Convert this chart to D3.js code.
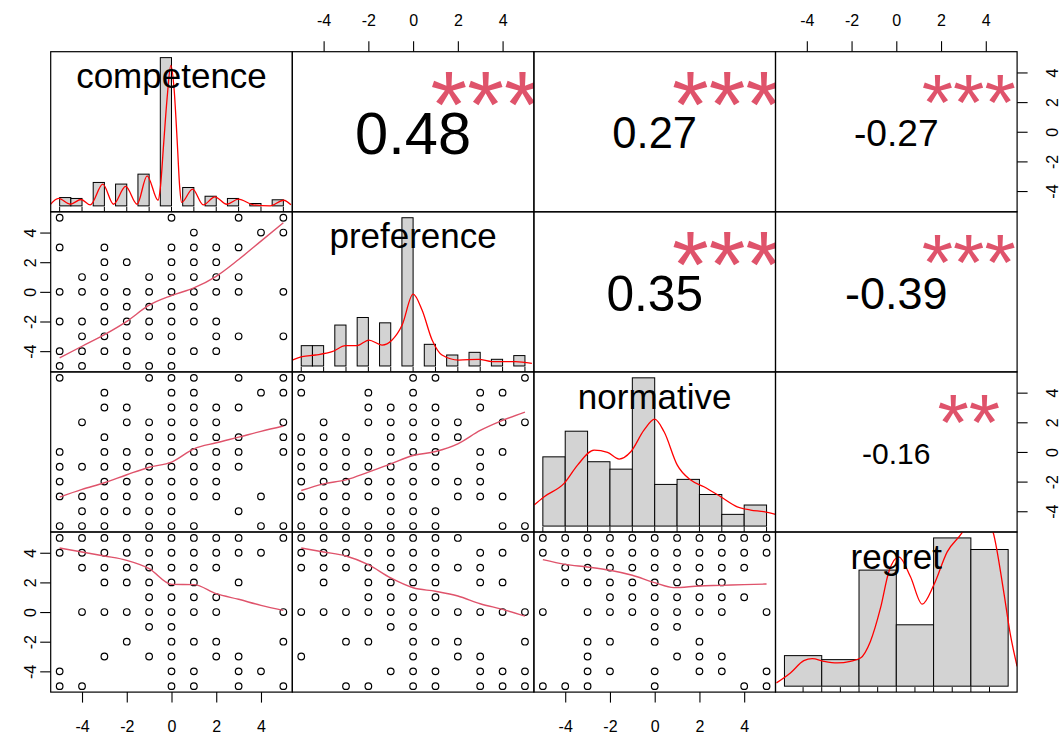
<!DOCTYPE html>
<html>
<head>
<meta charset="utf-8">
<script src="https://cdn.jsdelivr.net/npm/d3@7"></script>
<style>
  body { margin: 0; background: #fff; }
  svg { display: block; }
  text { font-family: "Liberation Sans", Arial, sans-serif; }
</style>
</head>
<body>
<div id="chart"></div>
<script>
// Correlation chart (pairs style) drawn with D3

const variables = ['competence', 'preference', 'normative', 'regret'];
const axisTicks = [-4, -2, 0, 2, 4];
const rugValues = [-5, -4, -3, -2, -1, 0, 1, 2, 3, 4, 5];

// histogram bins: left edges, bin width, bar heights (% of tallest bar)
const competenceBins = [-5, -4.5, -3.5, -2.5, -1.5, -0.5, 0.5, 1.5, 2.5, 3.5, 4.5];
const competenceBars = [5.6, 5.0, 15.8, 14.7, 21.4, 100, 12.4, 6.5, 5.0, 1.6, 4.1];
const preferenceBins = [-5, -4.5, -3.5, -2.5, -1.5, -0.5, 0.5, 1.5, 2.5, 3.5, 4.5];
const preferenceBars = [13.7, 13.7, 27.6, 32.7, 29.1, 100, 14.6, 7.4, 9.2, 4.5, 7.0];
const normativeBins = [-5, -4, -3, -2, -1, 0, 1, 2, 3, 4];
const normativeBars = [46.7, 64.0, 43.4, 38.4, 100, 28.1, 31.5, 21.3, 7.9, 14.2];
const regretBins = [-6, -4, -2, 0, 2, 4];
const regretBars = [20.6, 17.9, 78.3, 41.4, 100, 92.2];
const binWidths = [0.5, 0.5, 1, 2];
const histDomains = [[-5.4, 5.4], [-5.4, 5.4], [-5.4, 5.4], [-6.48, 6.48]];

// density curves [x, height in same units as bars]
const competenceDensity = [[-5.43, 0.7], [-5.05, 5.0], [-4.53, 1.1], [-4.04, 4.3], [-3.63, 0.7], [-3.07, 14.7],
  [-2.59, 1.1], [-2.05, 13.1], [-1.54, 1.1], [-1.09, 20.3], [-0.6, 3.8], [-0.5, 12], [-0.35, 42], [-0.2, 72],
  [-0.03, 94.8], [0.12, 78], [0.25, 45], [0.37, 12], [0.45, 2.3], [0.94, 11.3], [1.42, 0.7], [1.94, 6.1],
  [2.47, 1.1], [2.99, 4.5], [3.66, 0.7], [4.41, 0], [5.01, 3.8], [5.34, 0.7]];
const preferenceDensity = [[-5.4, 4.0], [-4.96, 6.3], [-4.36, 7.4], [-3.62, 9.6], [-3.02, 13.7], [-2.5, 13.7],
  [-1.98, 17.5], [-1.39, 14.1], [-0.94, 17.5], [-0.49, 27.6], [0, 48.4], [0.4, 37.7], [0.85, 17.5], [1.29, 7.4],
  [2.04, 4.0], [2.93, 4.5], [3.53, 2.9], [4.57, 2.9], [5.31, 1.8]];
const normativeDensity = [[-5.39, 14.2], [-4.94, 19.8], [-4.05, 28.8], [-3.45, 41.1], [-2.71, 51.2], [-2.11, 49.7],
  [-1.59, 45.2], [-1.07, 50.1], [-0.48, 64.7], [0, 72.1], [0.42, 63.6], [1.01, 41.1], [1.61, 31.0], [2.2, 26.5],
  [2.95, 19.8], [3.69, 13.0], [4.29, 10.8], [4.88, 9.7], [5.4, 7.9]];
const regretDensity = [[-6.43, 2.2], [-5.68, 8.9], [-4.96, 17.2], [-4.51, 18.6], [-3.89, 16.8], [-3.17, 15.7],
  [-2.46, 16.8], [-1.92, 19.0], [-1.39, 30.2], [-0.85, 52.6], [-0.4, 77.2], [0.13, 87.2], [0.76, 73.8],
  [1.39, 55.3], [2.01, 68.2], [2.73, 90.6], [3.53, 103.6], [4.0, 114], [4.4, 117], [4.8, 113], [5.19, 104],
  [5.76, 63.8], [6.12, 34.7], [6.48, 13.4]];

// scatter points, grouped as [y, [x values]]
const competencePreference = [[5, [-5, 0, 3, 5]], [4, [1, 4, 5]], [3, [-5, -3, 0, 1, 2, 3]], [2, [-3, -2, 0, 1, 2]],
  [1, [-4, -3, -1, 0, 1, 2, 3]], [0, [-5, -4, -3, -2, -1, 0, 1, 2, 3, 5]], [-1, [-3, -2, -1, 0, 1]],
  [-2, [-5, -4, -3, -2, -1, 0, 1, 2]], [-3, [-4, -3, -2, -1, 0, 2, 3, 5]], [-4, [-5, -4, -3, -2, 0, 1, 2]],
  [-5, [-5, -4, -2, -1, 0]]];
const competenceNormative = [[5, [-5, -1, 0, 1, 3, 5]], [4, [-3, 0, 1, 4, 5]], [3, [-3, -2, 0, 1, 2, 3]],
  [2, [-4, -2, -1, 0, 1, 2, 5]], [1, [-3, -1, 0, 1, 2, 3, 5]], [0, [-5, -3, -2, -1, 0, 1, 2, 3, 5]],
  [-1, [-5, -4, -3, -2, -1, 0, 1, 2, 3]], [-2, [-5, -3, -2, -1, 0, 1, 2]], [-3, [-5, -4, -3, -2, -1, 0, 1, 2, 4]],
  [-4, [-4, -3, -2, -1, 0, 3]], [-5, [-5, -4, -3, -1, 0, 1, 4, 5]]];
const competenceRegret = [[5, [-5, -4, -3, -2, -1, 0, 1, 2, 3, 5]], [4, [-5, -4, -3, -2, -1, 0, 1, 2, 3, 4]],
  [3, [-4, -3, -2, -1, 0, 1, 2]], [2, [-3, -2, -1, 0, 1, 3]], [1, [-1, 0, 1, 2]], [0, [-4, -3, -2, -1, 0, 1, 2, 5]],
  [-1, [-1, 0]], [-2, [-2, 0, 1, 2, 5]], [-3, [-3, -1, 0, 2, 3]], [-4, [-5, 0, 1, 3, 4]], [-5, [-5, -4, 0, 1, 3, 5]]];
const preferenceNormative = [[5, [-5, 0, 1, 5]], [4, [-5, -2, 0, 3, 4]], [3, [-2, -1, 0, 1, 3]],
  [2, [-4, -2, -1, 0, 1, 2, 4, 5]], [1, [-5, -4, -3, -1, 0, 1, 2]], [0, [-5, -4, -3, -2, -1, 0, 1, 3, 4]],
  [-1, [-5, -4, -3, -2, -1, 0, 1, 3]], [-2, [-5, -4, -3, -2, -1, 0, 1, 2, 3]], [-3, [-5, -4, -3, -2, -1, 0, 2, 3, 4]],
  [-4, [-4, -3, -1, 0, 1]], [-5, [-5, -4, -3, -2, -1, 0, 1, 4, 5]]];
const preferenceRegret = [[5, [-5, -4, -3, -2, -1, 0, 1, 2, 5]], [4, [-5, -4, -3, -2, -1, 0, 1, 3, 4]],
  [3, [-5, -4, -3, -2, -1, 0, 1, 2, 3]], [2, [-4, -2, -1, 0, 1, 3, 4]], [1, [-2, -1, 0, 1]],
  [0, [-5, -4, -3, -2, -1, 0, 1, 2, 3, 4, 5]], [-1, [-1, 0]], [-2, [-3, -2, 0, 1, 2, 5]], [-3, [-5, 0, 2, 3]],
  [-4, [-1, 0, 1, 3, 4, 5]], [-5, [-3, -2, 0, 1, 3, 4, 5]]];
const normativeRegret = [[5, [-5, -4, -3, -2, -1, 0, 1, 2, 3, 4, 5]], [4, [-5, -4, -3, -2, -1, 0, 1, 2, 3, 4, 5]],
  [3, [-4, -3, -2, -1, 0, 1, 2, 3, 4]], [2, [-4, -3, -2, -1, 0, 1, 2, 3]], [1, [-2, -1, 0, 1, 2, 3, 4]],
  [0, [-5, -3, -2, -1, 0, 1, 2, 3, 5]], [-1, [0, 1]], [-2, [-3, -2, 0, 2]], [-3, [-3, 1, 2, 3]],
  [-4, [-3, -2, 0, 2, 3, 5]], [-5, [-5, -4, -3, 0, 4, 5]]];

// smoothing lines [x, y]
const competencePreferenceSmooth = [[-5, -4.46], [-4, -3.67], [-3, -2.89], [-2, -1.99], [-1, -0.9], [0, -0.25],
  [1, 0.27], [2, 1.05], [3, 2.18], [4, 3.42], [5, 4.66]];
const competenceNormativeSmooth = [[-5, -3.05], [-4, -2.53], [-3, -2.08], [-2, -1.54], [-1, -1.03], [0, -0.69],
  [1, 0.21], [2, 0.62], [3, 1.0], [4, 1.39], [5, 1.75]];
const competenceRegretSmooth = [[-5, 4.32], [-4, 4.05], [-3, 3.78], [-2, 3.49], [-1, 2.93], [0, 1.87], [1, 1.85],
  [2, 1.24], [3, 0.86], [4, 0.45], [5, 0.11]];
const preferenceNormativeSmooth = [[-5, -2.6], [-4, -2.15], [-3, -1.88], [-2, -1.36], [-1, -0.8], [0, -0.24],
  [1, 0.03], [2, 0.55], [3, 1.45], [4, 2.13], [5, 2.69]];
const preferenceRegretSmooth = [[-5, 4.32], [-4, 4.05], [-3, 3.78], [-2, 3.2], [-1, 2.3], [0, 1.64], [1, 1.4],
  [2, 1.08], [3, 0.56], [4, 0.18], [5, -0.27]];
const normativeRegretSmooth = [[-5, 3.54], [-4, 3.22], [-3, 3.04], [-2, 2.82], [-1, 2.48], [0, 1.98], [0.86, 1.65],
  [2, 1.76], [3, 1.8], [4, 1.85], [5, 1.89]];

// correlations for upper panels, in order (1,2) (1,3) (1,4) (2,3) (2,4) (3,4)
const corrValues = [0.48, 0.27, -0.27, 0.35, -0.39, -0.16];
const corrStars = ['***', '***', '***', '***', '***', '**'];

const histBins = [competenceBins, preferenceBins, normativeBins, regretBins];
const histBars = [competenceBars, preferenceBars, normativeBars, regretBars];
const densities = [competenceDensity, preferenceDensity, normativeDensity, regretDensity];
const scatterSets = {
  '1-0': [competencePreference, competencePreferenceSmooth],
  '2-0': [competenceNormative, competenceNormativeSmooth],
  '3-0': [competenceRegret, competenceRegretSmooth],
  '2-1': [preferenceNormative, preferenceNormativeSmooth],
  '3-1': [preferenceRegret, preferenceRegretSmooth],
  '3-2': [normativeRegret, normativeRegretSmooth]
};

// layout
const width = 1059, height = 738;
const plotLeft = 50.7, plotTop = 51.7;
const panelW = 241.6, panelH = 160.1;
const n = variables.length;

const svg = d3.select('#chart').append('svg')
  .attr('width', width)
  .attr('height', height);

const defs = svg.append('defs');

function colX(j) { return plotLeft + j * panelW; }
function rowY(i) { return plotTop + i * panelH; }

// pairs scales for every column / row
const xPair = d3.range(n).map(j => d3.scaleLinear().domain([-5.4, 5.4]).range([colX(j), colX(j) + panelW]));
const yPair = d3.range(n).map(i => d3.scaleLinear().domain([-5.4, 5.4]).range([rowY(i) + panelH, rowY(i)]));

function measure(str, size) {
  const t = svg.append('text').attr('font-size', size).text(str);
  const w = t.node().getComputedTextLength();
  t.remove();
  return w;
}

let corrIndex = 0;
for (let i = 0; i < n; i++) {
  for (let j = 0; j < n; j++) {
    const x0 = colX(j), y0 = rowY(i);
    const clipId = `clip-${i}-${j}`;
    defs.append('clipPath').attr('id', clipId)
      .append('rect').attr('x', x0).attr('y', y0).attr('width', panelW).attr('height', panelH);
    const g = svg.append('g').attr('clip-path', `url(#${clipId})`);

    if (i === j) {
      // histogram panel
      const bars = histBars[i];
      const maxH = d3.max(bars);
      const hx = d3.scaleLinear().domain(histDomains[i]).range([x0, x0 + panelW]);
      const hy = d3.scaleLinear().domain([-0.04 * maxH, 1.04 * maxH]).range([y0 + panelH, y0]);
      const bw = binWidths[i];

      g.selectAll('rect.bar')
        .data(bars)
        .join('rect')
        .attr('class', 'bar')
        .attr('x', (d, k) => hx(histBins[i][k]))
        .attr('width', (d, k) => hx(histBins[i][k] + bw) - hx(histBins[i][k]))
        .attr('y', d => hy(d))
        .attr('height', d => hy(0) - hy(d))
        .attr('fill', '#d3d3d3')
        .attr('stroke', '#000')
        .attr('stroke-width', 1);

      g.append('path')
        .datum(densities[i])
        .attr('fill', 'none')
        .attr('stroke', 'red')
        .attr('stroke-width', 1.3)
        .attr('d', d3.line().x(d => hx(d[0])).y(d => hy(d[1])).curve(d3.curveMonotoneX));

      // rug
      g.selectAll('line.rug')
        .data(rugValues)
        .join('line')
        .attr('class', 'rug')
        .attr('x1', d => hx(d)).attr('x2', d => hx(d))
        .attr('y1', y0 + panelH).attr('y2', y0 + panelH - 5)
        .attr('stroke', '#000')
        .attr('stroke-width', 1);

      svg.append('text')
        .attr('x', x0 + panelW / 2)
        .attr('y', y0 + panelH / 6 + 10)
        .attr('text-anchor', 'middle')
        .attr('font-size', 35)
        .attr('fill', '#000')
        .text(variables[i]);
    } else if (i > j) {
      // scatter panel
      const [pts, smooth] = scatterSets[`${i}-${j}`];
      const flat = pts.flatMap(([y, xs]) => xs.map(x => [x, y]));
      g.selectAll('circle')
        .data(flat)
        .join('circle')
        .attr('cx', d => xPair[j](d[0]))
        .attr('cy', d => yPair[i](d[1]))
        .attr('r', 3.3)
        .attr('fill', 'none')
        .attr('stroke', '#000')
        .attr('stroke-width', 1.2);

      g.append('path')
        .datum(smooth)
        .attr('fill', 'none')
        .attr('stroke', '#df536b')
        .attr('stroke-width', 1.4)
        .attr('d', d3.line().x(d => xPair[j](d[0])).y(d => yPair[i](d[1])).curve(d3.curveMonotoneX));
    } else {
      // correlation panel
      const r = corrValues[corrIndex];
      const stars = corrStars[corrIndex];
      corrIndex++;
      const txt = d3.format('.2f')(r).replace('−', '-');
      const base = 0.8 * panelW / (measure(txt, 100) / 100);
      const numSize = base * (Math.abs(r) + 0.3) / 1.3;

      g.append('text')
        .attr('x', x0 + 0.5 * panelW)
        .attr('y', y0 + 0.5 * panelH + 0.358 * numSize + 1)
        .attr('text-anchor', 'middle')
        .attr('font-size', numSize)
        .attr('fill', '#000')
        .text(txt);

      g.append('text')
        .attr('x', x0 + 0.8 * panelW)
        .attr('y', y0 + 0.2 * panelH + 0.54 * base)
        .attr('text-anchor', 'middle')
        .attr('font-size', base * 0.95)
        .attr('fill', '#df536b')
        .text(stars);
    }

    svg.append('rect')
      .attr('x', x0).attr('y', y0)
      .attr('width', panelW).attr('height', panelH)
      .attr('fill', 'none')
      .attr('stroke', '#000')
      .attr('stroke-width', 1.2);
  }
}

// axes
const tickLabel = d => String(d);

function styleAxis(g) {
  g.select('.domain').remove();
  g.selectAll('.tick line').attr('stroke', '#000').attr('stroke-width', 1.1);
  g.selectAll('.tick text').attr('fill', '#000').attr('font-size', 16)
    .attr('font-family', '"Liberation Sans", Arial, sans-serif');
}

[1, 3].forEach(j => {
  svg.append('g')
    .attr('transform', `translate(0,${plotTop})`)
    .call(d3.axisTop(xPair[j]).tickValues(axisTicks).tickFormat(tickLabel).tickSize(10.5))
    .call(styleAxis)
    .call(g => g.selectAll('.tick text').attr('y', -25.7).attr('dy', 0));
});

[0, 2].forEach(j => {
  svg.append('g')
    .attr('transform', `translate(0,${plotTop + n * panelH})`)
    .call(d3.axisBottom(xPair[j]).tickValues(axisTicks).tickFormat(tickLabel).tickSize(10.5))
    .call(styleAxis)
    .call(g => g.selectAll('.tick text').attr('y', 39.7).attr('dy', 0));
});

[1, 3].forEach(i => {
  svg.append('g')
    .attr('transform', `translate(${plotLeft},0)`)
    .call(d3.axisLeft(yPair[i]).tickValues(axisTicks).tickFormat(tickLabel).tickSize(10.5))
    .call(styleAxis)
    .call(g => g.selectAll('.tick text')
      .attr('x', 0).attr('dy', 0)
      .attr('text-anchor', 'middle')
      .attr('transform', 'translate(-15,0) rotate(-90)'));
});

[0, 2].forEach(i => {
  svg.append('g')
    .attr('transform', `translate(${plotLeft + n * panelW},0)`)
    .call(d3.axisRight(yPair[i]).tickValues(axisTicks).tickFormat(tickLabel).tickSize(10.5))
    .call(styleAxis)
    .call(g => g.selectAll('.tick text')
      .attr('x', 0).attr('dy', 0)
      .attr('text-anchor', 'middle')
      .attr('transform', 'translate(40.4,0) rotate(-90)'));
});
</script>
</body>
</html>
